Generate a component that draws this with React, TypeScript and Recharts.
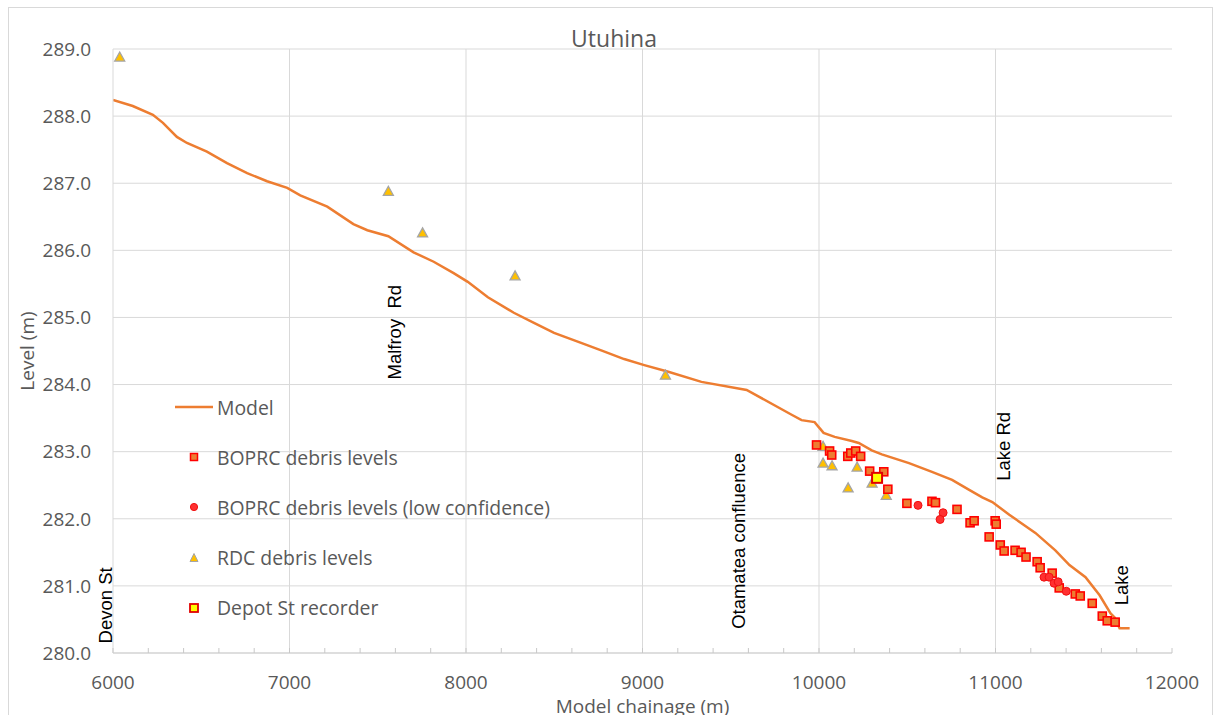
import React from 'react';
import {
  ComposedChart,
  Line,
  Scatter,
  XAxis,
  YAxis,
  CartesianGrid,
  ReferenceLine,
  ReferenceDot,
  Legend,
} from 'recharts';

// ---------- data ----------
const modelChainage = [
  6000, 6112, 6226, 6283, 6362, 6419, 6532, 6646, 6760, 6873, 6987, 7061, 7214, 7362, 7441, 7560,
  7703, 7817, 7930, 8010, 8124, 8271, 8385, 8499, 8652, 8766, 8896, 9010, 9146, 9334, 9590, 9845,
  9901, 9975, 10026, 10089, 10186, 10225, 10299, 10356, 10510, 10640, 10754, 10851, 10925, 10982,
  11078, 11226, 11339, 11419, 11510, 11590, 11652, 11675, 11703, 11760,
];
const modelLevel = [
  288.24, 288.15, 288.02, 287.9, 287.69, 287.6, 287.47, 287.3, 287.15, 287.03, 286.93, 286.82,
  286.65, 286.39, 286.3, 286.21, 285.97, 285.83, 285.66, 285.53, 285.3, 285.07, 284.92, 284.77,
  284.62, 284.51, 284.38, 284.29, 284.19, 284.04, 283.92, 283.55, 283.47, 283.44, 283.28, 283.22,
  283.16, 283.13, 283.02, 282.96, 282.83, 282.7, 282.58, 282.43, 282.32, 282.25, 282.06, 281.79,
  281.53, 281.31, 281.13, 280.86, 280.59, 280.53, 280.37, 280.37,
];

const boprcChainage = [
  9986, 10060, 10072, 10163, 10180, 10208, 10236, 10287, 10367, 10390, 10498, 10640, 10660, 10782,
  10856, 10879, 10998, 11004, 10964, 11027, 11049, 11111, 11145, 11173, 11236, 11253, 11321, 11361,
  11452, 11480, 11548, 11605, 11633, 11678,
];
const boprcLevel = [
  283.1, 283.01, 282.95, 282.93, 282.98, 283.01, 282.93, 282.71, 282.7, 282.44, 282.23, 282.26,
  282.24, 282.14, 281.94, 281.97, 281.97, 281.92, 281.73, 281.61, 281.52, 281.53, 281.5, 281.43,
  281.36, 281.27, 281.19, 280.97, 280.88, 280.85, 280.74, 280.55, 280.48, 280.46,
];

const lowConfChainage = [10561, 10703, 10686, 11275, 11304, 11332, 11355, 11401];
const lowConfLevel = [282.2, 282.09, 281.99, 281.13, 281.13, 281.04, 281.06, 280.92];

const rdcChainage = [6038, 7560, 7754, 8278, 9130, 10023, 10023, 10074, 10216, 10165, 10301, 10381];
const rdcLevel = [288.88, 286.88, 286.26, 285.62, 284.14, 283.08, 282.83, 282.79, 282.77, 282.46, 282.53, 282.35];

const depotChainage = [10329];
const depotLevel = [282.61];

const majorXTicks = [6000, 7000, 8000, 9000, 10000, 11000, 12000];
const minorXStep = 200;
const yTicks = [280, 281, 282, 283, 284, 285, 286, 287, 288, 289];

const annotationLabels = ['Devon St', 'Malfroy  Rd', 'Otamatea confluence', 'Lake Rd', 'Lake'];
const annotationChainage = [5959, 7596, 9545, 11046, 11713];
const annotationLevel = [280.71, 284.78, 281.67, 283.08, 281.01];

const legendLabels = [
  'Model',
  'BOPRC debris levels',
  'BOPRC debris levels (low confidence)',
  'RDC debris levels',
  'Depot St recorder',
];

// ---------- derived tables ----------
const zip = (xs: number[], ys: number[]) => xs.map((x, i) => ({ x, y: ys[i] }));
const modelData = zip(modelChainage, modelLevel);
const boprcData = zip(boprcChainage, boprcLevel);
const lowConfData = zip(lowConfChainage, lowConfLevel);
const rdcData = zip(rdcChainage, rdcLevel);
const depotData = zip(depotChainage, depotLevel);

const xTicks: number[] = [];
for (let v = majorXTicks[0]; v <= majorXTicks[majorXTicks.length - 1]; v += minorXStep) xTicks.push(v);

// ---------- styles ----------
const ORANGE = '#ED7D31';
const RED = '#FF0000';
const TEXT = '#595959';
const GRID = '#d9d9d9';
const FONT = "'Open Sans', sans-serif";

// ---------- shapes ----------
const SquareShape = (p: any) => (
  <rect x={p.cx - 4} y={p.cy - 4} width={8} height={8} fill={ORANGE} stroke={RED} strokeWidth={1.6} />
);
const CircleShape = (p: any) => (
  <circle cx={p.cx} cy={p.cy} r={4} fill="#FF3030" stroke="#F01010" strokeWidth={1} />
);
const TriangleShape = (p: any) => (
  <path
    d={`M${p.cx},${p.cy - 5} L${p.cx + 5},${p.cy + 4} L${p.cx - 5},${p.cy + 4} Z`}
    fill="#FFC000"
    stroke="#A5A5A5"
    strokeWidth={1.3}
  />
);
const DepotShape = (p: any) => (
  <rect x={p.cx - 5} y={p.cy - 5} width={10} height={10} fill="#FFFF00" stroke="#E00000" strokeWidth={2} />
);

const XTick = (props: any) => {
  const { x, y, payload } = props;
  const v = payload.value;
  const major = majorXTicks.includes(v);
  return (
    <g>
      <line x1={x} x2={x} y1={y - 5} y2={y} stroke="#c8c8c8" strokeWidth={1} />
      {major && (
        <text x={x} y={y + 36} textAnchor="middle" fill={TEXT} fontSize={19} fontFamily={FONT}>
          {v}
        </text>
      )}
    </g>
  );
};

const YLabel = (props: any) => {
  const vb = props.viewBox || { x: 0, y: 49, width: 113, height: 604 };
  const cx = vb.x + 27;
  const cy = vb.y + vb.height / 2;
  return (
    <text
      x={cx}
      y={cy}
      transform={`rotate(-90, ${cx}, ${cy})`}
      textAnchor="middle"
      dominantBaseline="central"
      fill={TEXT}
      fontSize={19}
      fontFamily={FONT}
    >
      Level (m)
    </text>
  );
};

const XLabel = (props: any) => {
  const vb = props.viewBox || { x: 113, y: 653, width: 1059, height: 62 };
  const cx = vb.x + vb.width / 2;
  return (
    <text x={cx} y={vb.y + 60} textAnchor="middle" fill={TEXT} fontSize={19} fontFamily={FONT}>
      Model chainage (m)
    </text>
  );
};

const makeAnnotation = (label: string) => (p: any) => (
  <text
    x={p.cx}
    y={p.cy}
    transform={`rotate(-90, ${p.cx}, ${p.cy})`}
    textAnchor="middle"
    dominantBaseline="central"
    fill="#000000"
    fontSize={18.5}
    fontFamily="'Liberation Sans', Arial, sans-serif"
    style={{ whiteSpace: 'pre' }}
  >
    {label}
  </text>
);

const LegendIcon = ({ index }: { index: number }) => {
  const icons = [
    <line key="l" x1={0} x2={38} y1={10} y2={10} stroke={ORANGE} strokeWidth={2.5} />,
    <rect key="s" x={15.5} y={6.5} width={7} height={7} fill={ORANGE} stroke={RED} strokeWidth={1.5} />,
    <circle key="c" cx={19} cy={10} r={3.6} fill="#FF3030" stroke="#F01010" strokeWidth={1} />,
    <path key="t" d="M19,5.5 L23,13.5 L15,13.5 Z" fill="#FFC000" stroke="#A5A5A5" strokeWidth={1} />,
    <rect key="d" x={15} y={6} width={8} height={8} fill="#FFFF00" stroke="#E00000" strokeWidth={1.8} />,
  ];
  return (
    <svg width={38} height={20} style={{ display: 'block' }}>
      {icons[index]}
    </svg>
  );
};

const renderLegend = () => (
  <div style={{ fontFamily: FONT, fontSize: 19.4, color: TEXT }}>
    {legendLabels.map((label, i) => (
      <div key={label} style={{ display: 'flex', alignItems: 'center', height: 50.2, whiteSpace: 'nowrap' }}>
        <LegendIcon index={i} />
        <span style={{ marginLeft: 4 }}>{label}</span>
      </div>
    ))}
  </div>
);

export default function App() {
  return (
    <div
      style={{
        position: 'absolute',
        left: 0,
        top: 0,
        width: 1215,
        height: 715,
        overflow: 'hidden',
        background: '#ffffff',
        fontFamily: FONT,
      }}
    >
      <div
        style={{
          position: 'absolute',
          left: 8,
          top: 7,
          width: 1203,
          height: 740,
          border: `1px solid ${GRID}`,
          pointerEvents: 'none',
        }}
      />
      <div
        style={{
          position: 'absolute',
          left: 514,
          top: 27,
          width: 200,
          textAlign: 'center',
          fontSize: 23,
          lineHeight: '23px',
          color: TEXT,
          zIndex: 2,
        }}
      >
        Utuhina
      </div>
      <ComposedChart width={1215} height={715} margin={{ top: 49, right: 43, bottom: 0, left: 0 }}>
        <CartesianGrid vertical={false} stroke={GRID} />
        {majorXTicks.slice(1, -1).map((v) => (
          <ReferenceLine key={v} x={v} stroke={GRID} strokeWidth={1} />
        ))}
        <XAxis
          type="number"
          dataKey="x"
          domain={[majorXTicks[0], majorXTicks[majorXTicks.length - 1]]}
          ticks={xTicks}
          interval={0}
          height={62}
          tickSize={0}
          tickMargin={0}
          tickLine={false}
          axisLine={{ stroke: '#d0d0d0' }}
          tick={<XTick />}
          allowDataOverflow
          label={XLabel}
        />
        <YAxis
          type="number"
          dataKey="y"
          domain={[yTicks[0], yTicks[yTicks.length - 1]]}
          ticks={yTicks}
          interval={0}
          width={113}
          tickSize={0}
          tickMargin={22}
          tickLine={false}
          axisLine={{ stroke: GRID }}
          tick={{ fill: TEXT, fontSize: 19 }}
          tickFormatter={(v: number) => v.toFixed(1)}
          allowDataOverflow
          label={YLabel}
        />
        <Line
          data={modelData}
          dataKey="y"
          name={legendLabels[0]}
          type="linear"
          stroke={ORANGE}
          strokeWidth={2.5}
          dot={false}
          activeDot={false}
          isAnimationActive={false}
        />
        <Scatter data={rdcData} name={legendLabels[3]} shape={TriangleShape} isAnimationActive={false} />
        <Scatter data={boprcData} name={legendLabels[1]} shape={SquareShape} isAnimationActive={false} />
        <Scatter data={lowConfData} name={legendLabels[2]} shape={CircleShape} isAnimationActive={false} />
        <Scatter data={depotData} name={legendLabels[4]} shape={DepotShape} isAnimationActive={false} />
        {annotationLabels.map((label, i) => (
          <ReferenceDot
            key={label}
            x={annotationChainage[i]}
            y={annotationLevel[i]}
            r={0}
            ifOverflow="visible"
            shape={makeAnnotation(label)}
          />
        ))}
        <Legend
          layout="vertical"
          align="center"
          verticalAlign="middle"
          content={renderLegend}
          wrapperStyle={{ left: 175, top: 382, width: 420 }}
        />
      </ComposedChart>
    </div>
  );
}
